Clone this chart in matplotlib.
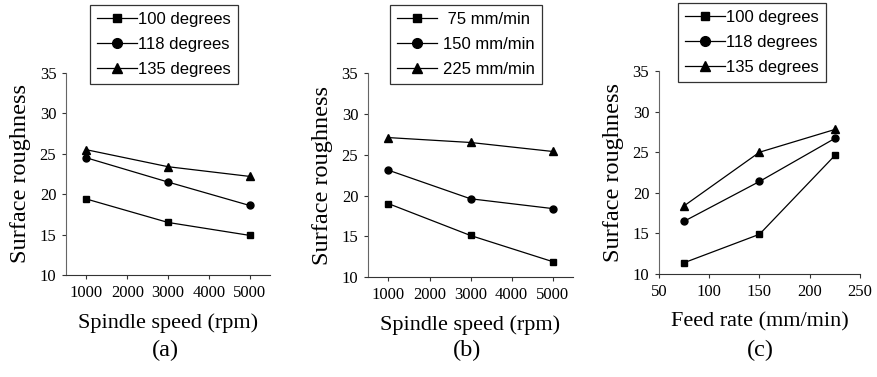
import matplotlib
matplotlib.use("Agg")
import matplotlib.pyplot as plt

# panel (a): spindle speed vs roughness, by drill point angle
speed = [1000, 3000, 5000]
a_100 = [19.4, 16.5, 14.9]
a_118 = [24.5, 21.5, 18.6]
a_135 = [25.5, 23.4, 22.2]
angle_labels = ["100 degrees", "118 degrees", "135 degrees"]

# panel (b): spindle speed vs roughness, by feed rate
b_75 = [19.0, 15.1, 11.9]
b_150 = [23.1, 19.6, 18.4]
b_225 = [27.1, 26.5, 25.4]
feed_labels = [" 75 mm/min", "150 mm/min", "225 mm/min"]

# panel (c): feed rate vs roughness, by drill point angle
feed = [75, 150, 225]
c_100 = [11.4, 14.9, 24.6]
c_118 = [16.5, 21.4, 26.7]
c_135 = [18.4, 25.0, 27.8]

markers = ["s", "o", "^"]
msizes = [4.5, 5, 5.5]

serif = ["Liberation Serif", "DejaVu Serif"]
sans = ["Liberation Sans", "DejaVu Sans"]

fig = plt.figure(figsize=(8.77, 3.77), dpi=100)

axes_pos = [
    [0.0753, 0.2706, 0.2327, 0.5358],
    [0.4196, 0.2650, 0.2338, 0.5410],
    [0.7514, 0.2730, 0.2292, 0.5387],
]
legend_pos = [(90, 5), (390, 5), (678, 3)]
panel_x = [165, 467, 760]


def style_axis(ax, xlim, xticks):
    ax.set_xlim(*xlim)
    ax.set_xticks(xticks)
    ax.set_ylim(10, 35)
    ax.set_yticks([10, 15, 20, 25, 30, 35])
    for s in ["top", "right"]:
        ax.spines[s].set_visible(False)
    ax.spines["left"].set_color("#666666")
    ax.spines["bottom"].set_color("#333333")
    ax.tick_params(direction="out", length=3, width=0.8, colors="#333333",
                   labelcolor="black", labelsize=12, pad=4)
    for lab in ax.get_xticklabels() + ax.get_yticklabels():
        lab.set_family(serif)
    ax.set_ylabel("Surface roughness", family=serif, fontsize=17.5, labelpad=6)


series = [
    (speed, [a_100, a_118, a_135], angle_labels, (500, 5500), [1000, 2000, 3000, 4000, 5000], "Spindle speed (rpm)", "(a)"),
    (speed, [b_75, b_150, b_225], feed_labels, (500, 5500), [1000, 2000, 3000, 4000, 5000], "Spindle speed (rpm)", "(b)"),
    (feed, [c_100, c_118, c_135], angle_labels, (50, 250), [50, 100, 150, 200, 250], "Feed rate (mm/min)", "(c)"),
]

for i, (xs, ys_list, labels, xlim, xticks, xlabel, tag) in enumerate(series):
    ax = fig.add_axes(axes_pos[i])
    for ys, lab, m, ms in zip(ys_list, labels, markers, msizes):
        ax.plot(xs, ys, color="black", lw=0.9, marker=m, markersize=ms,
                label=lab, clip_on=False)
    style_axis(ax, xlim, xticks)
    ax.set_xlabel(xlabel, family=serif, fontsize=16, labelpad=9)
    fig.text(panel_x[i] / 877, 1 - 350 / 377, tag, family=serif, fontsize=17.5,
             ha="center", va="center")
    lx, ly = legend_pos[i]
    leg = ax.legend(loc="upper left", bbox_to_anchor=(lx / 877, 1 - ly / 377),
                    bbox_transform=fig.transFigure, frameon=True, fancybox=False,
                    edgecolor="black", prop={"family": sans, "size": 12},
                    handlelength=2.4, handletextpad=0.1 if i != 1 else 0.4,
                    labelspacing=0.62, borderpad=0.4, borderaxespad=0,
                    markerscale=1.4)
    leg.get_frame().set_linewidth(0.9)

fig.savefig("out.png", dpi=100)
